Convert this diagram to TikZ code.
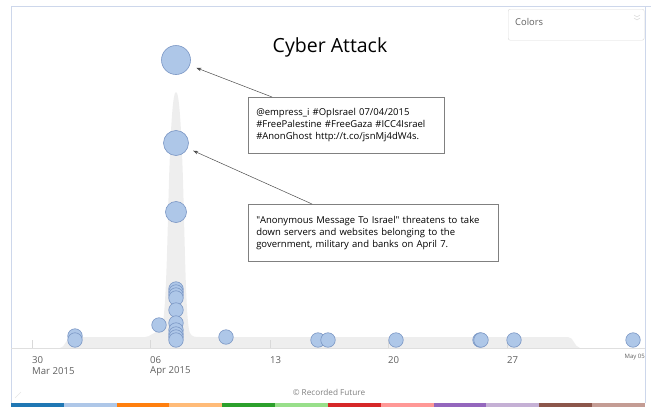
\documentclass[tikz,border=0pt]{standalone}
\usepackage{fontspec}
\setmainfont{Open Sans}
\usetikzlibrary{arrows.meta}

\definecolor{bubblefill}{RGB}{174,199,232}
\definecolor{bubbleline}{RGB}{122,150,196}
\definecolor{areagray}{RGB}{238,238,238}
\definecolor{framecol}{RGB}{205,215,235}
\definecolor{labelgray}{RGB}{95,95,95}
\definecolor{c1}{RGB}{31,119,180}
\definecolor{c2}{RGB}{174,199,232}
\definecolor{c3}{RGB}{255,127,14}
\definecolor{c4}{RGB}{255,187,120}
\definecolor{c5}{RGB}{44,160,44}
\definecolor{c6}{RGB}{152,223,138}
\definecolor{c7}{RGB}{214,39,40}
\definecolor{c8}{RGB}{255,152,150}
\definecolor{c9}{RGB}{148,103,189}
\definecolor{c10}{RGB}{197,176,213}
\definecolor{c11}{RGB}{140,86,75}
\definecolor{c12}{RGB}{196,156,148}

\tikzset{
	bubble/.style={circle, fill=bubblefill, draw=bubbleline, line width=0.6pt, inner sep=0pt, minimum size=#1},
	bubble/.default=14.5pt,
	note/.style={draw=black!50, fill=white, line width=0.5pt, anchor=north west, align=left,
		inner xsep=8pt, inner ysep=0pt, font=\fontsize{9.5}{11.8}\selectfont},
	pointer/.style={draw=black!70, line width=0.5pt, -{Stealth[length=5pt,width=3.5pt]}},
	ticklabel/.style={anchor=west, inner sep=0pt, text=labelgray, font=\fontsize{9.6}{10}\selectfont},
}

\begin{document}
\begin{tikzpicture}[x=1pt,y=-1pt]
			\useasboundingbox (0,0) rectangle (651,407);
			% frame and axis
			\draw[framecol, line width=0.8pt] (11,403) -- (11,6) -- (651,6);
			\draw[framecol, line width=0.8pt] (645,6) -- (645,403);
			\fill[areagray] (60,348) .. controls (65,348) and (66,337) .. (72,337) -- (145,337)
				.. controls (150,337) and (153,332) .. (160,331) .. controls (166,330) and (167,250) .. (169,180)
				.. controls (171,120) and (173,92) .. (176,92) .. controls (179,92) and (181,120) .. (183,180)
				.. controls (185,250) and (186,326) .. (190,333) .. controls (192,337) and (195,337) .. (200,337)
				-- (568,337) .. controls (574,337) and (574,347) .. (580,348) -- cycle;
			\draw[gray!25, line width=0.8pt] (11,348) -- (645,348);
			\foreach \x in {32,150,270,388,507}
				\draw[gray!30] (\x,340) -- (\x,348);
			% tick labels
			\node[ticklabel] (l30) at (32,360) {30};
			\node[ticklabel] (lmar) at (32,371) {Mar 2015};
			\node[ticklabel] (l06) at (150,360) {06};
			\node[ticklabel] (lapr) at (150,371) {Apr 2015};
			\node[ticklabel] (l13) at (270,360) {13};
			\node[ticklabel] (l20) at (388,360) {20};
			\node[ticklabel] (l27) at (507,360) {27};
			\node[ticklabel, font=\fontsize{6}{7}\selectfont, anchor=east] (lmay) at (645,357) {May 05};
			% bubbles
			\node[bubble=29pt] (top) at (176,60) {};
			\node[bubble=25pt] (mid) at (176,143) {};
			\node[bubble=21pt] (low) at (176,212) {};
			\foreach \y [count=\i] in {289,292,295,298,310,323,330,334,337,340}
				\node[bubble] (s\i) at (176,\y) {};
			\foreach \x/\y [count=\i] in {75/336,75/340,159/325,226/337,318/340,328/340,396/340,480/340,481/340,514/340,633/340}
				\node[bubble] (b\i) at (\x,\y) {};
			% title and notes
			\node (title) at (330,47) {\fontsize{19.5}{22}\selectfont Cyber Attack};
			\node[note, text width=180pt, minimum height=56pt] (note1) at (248,97)
				{@empress\_i \#OpIsrael 07/04/2015\\ \#FreePalestine \#FreeGaza \#ICC4Israel\\ \#AnonGhost http://t.co/jsnMj4dW4s.};
			\node[note, text width=234pt, minimum height=57pt] (note2) at (248,204)
				{\textquotedbl Anonymous Message To Israel\textquotedbl\ threatens to take\\ down servers and websites belonging to the\\ government, military and banks on April 7.};
			\coordinate (p1) at ([xshift=24pt]note1.north west);
			\coordinate (p2) at ([xshift=64pt]note2.north west);
			\draw[pointer, shorten >=7pt] (p1) -- (top);
			\draw[pointer, shorten >=6pt] (p2) -- (mid);
			% colors legend
			\node[draw=gray!30, rounded corners=2pt, minimum width=136pt, minimum height=31pt, anchor=north west] (legend) at (508,9) {};
			\node[anchor=west, inner sep=0pt, text=labelgray, font=\fontsize{9.4}{10}\selectfont] (colors) at (515,22) {Colors};
			\draw[gray!40] (634,15) -- (637,17) -- (640,15);
			\draw[gray!40] (634,18) -- (637,20) -- (640,18);
			% footer
			\node[text=gray, font=\fontsize{8.2}{9}\selectfont] (credit) at (329,392) {© Recorded Future};
			\draw[gray!20] (15,398) -- (21,392);
			\foreach \c [count=\i from 0] in {c1,c2,c3,c4,c5,c6,c7,c8,c9,c10,c11,c12}
				\fill[\c] ({11+52.83*\i},403) rectangle ({11+52.83*(\i+1)},407);
		\end{tikzpicture}
\end{document}
